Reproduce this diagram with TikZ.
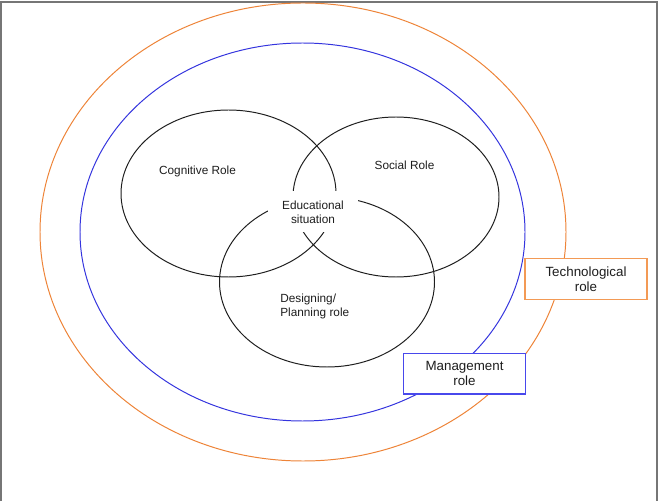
\documentclass[tikz,border=0pt]{standalone}
\usepackage{fontspec}
\setmainfont{Liberation Sans}
\usepackage{xcolor}
\usepackage{tikz}
\usetikzlibrary{positioning}
\definecolor{rolorange}{HTML}{EE8438}
\definecolor{rolblue}{HTML}{3434DE}
\definecolor{rolboxorange}{HTML}{F39A55}
\definecolor{rolboxblue}{HTML}{4848EC}
\definecolor{rolink}{HTML}{1E1E1E}
\definecolor{rolframe}{HTML}{767676}

\begin{document}
\begin{tikzpicture}[x=1cm,y=1cm,
    venntext/.style={font=\fontsize{8.4}{10}\selectfont, text=rolink, inner sep=0pt},
    rolebox/.style={fill=white, line width=1.1pt, inner sep=0pt, align=center,
      minimum width=3.04cm, minimum height=1.02cm,
      font=\fontsize{9.5}{10.7}\selectfont, text=rolink}]
  \useasboundingbox (0,0) rectangle (16.6,12.525);
  \fill[white] (0,0) rectangle (16.6,12.525);
  \draw[rolframe, line width=1.2pt] (0.025,0) -- (0.025,12.475) -- (16.425,12.475) -- (16.425,0);

  % outer roles
  \draw[rolorange, line width=0.7pt] (7.575,6.725) ellipse (6.575 and 5.725);
  \draw[rolblue, line width=0.7pt] (7.5625,6.725) ellipse (5.5625 and 4.725);

  % the three inner roles
  \draw[rolink, line width=0.7pt] (5.7125,7.6875) ellipse (2.6875 and 2.0875);
  \draw[rolink, line width=0.7pt] (9.9,7.6) ellipse (2.575 and 2.0);
  \draw[rolink, line width=0.7pt] (8.175,5.475) ellipse (2.6875 and 2.125);

  \node[venntext] (cognitive) at (4.9375,8.2325) {Cognitive Role};
  \node[venntext] (social) at (10.1125,8.4) {Social Role};
  \node[venntext, fill=white, align=center, minimum width=2.25cm, minimum height=1.025cm]
    (situation) at (7.825,7.225) {Educational\\situation};
  \node[venntext, anchor=west, align=left] (designing) at (7.0,4.8575)
    {Designing/\\Planning role};

  \node[rolebox, draw=rolboxorange] (technological) at (14.65,5.55) {Technological\\role};
  \node[rolebox, draw=rolboxblue] (management) at (11.6125,3.1825) {Management\\role};
\end{tikzpicture}
\end{document}
